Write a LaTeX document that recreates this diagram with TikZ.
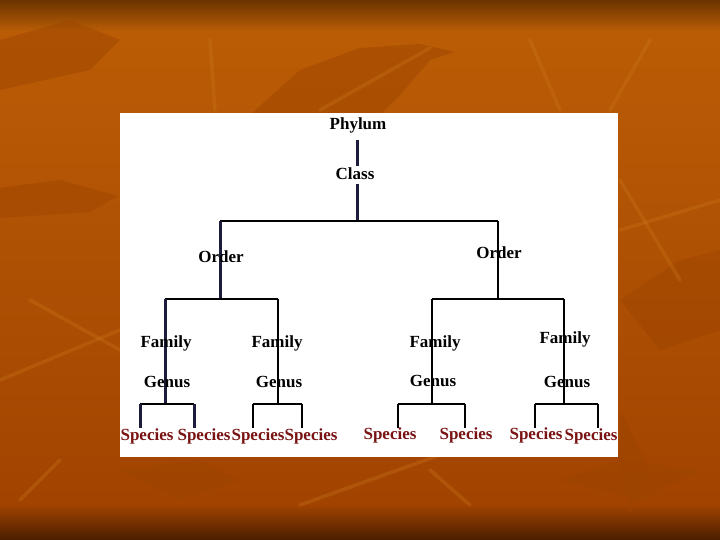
\documentclass[tikz,border=0pt]{standalone}
\usepackage{fontspec}
\setmainfont{Liberation Serif}
\definecolor{bgtop}{HTML}{BC5E06}
\definecolor{bgbot}{HTML}{A04200}
\definecolor{bandtop}{HTML}{6A3400}
\definecolor{bandbot}{HTML}{4A1E00}
\definecolor{leafdark}{HTML}{9C4400}
\definecolor{leaflight}{HTML}{CC7A1C}
\definecolor{navy}{HTML}{1C1C3C}
\definecolor{specred}{HTML}{7A1414}
\tikzset{
  lbl/.style={font=\fontsize{17}{19}\selectfont\bfseries, inner sep=1pt},
  spec/.style={lbl, text=specred},
  thickln/.style={line width=3pt, draw=navy},
  medln/.style={line width=2.4pt, draw=black},
  thinln/.style={line width=1.2pt, draw=black},
  leaf/.style={fill=leafdark, opacity=0.45, draw=none},
  vein/.style={draw=leaflight, opacity=0.3, line width=3.5pt, line cap=round}
}
\begin{document}
\begin{tikzpicture}[x=1pt,y=-1pt]
\useasboundingbox (0,0) rectangle (720,540);
% background
\shade[top color=bgtop, bottom color=bgbot] (0,0) rectangle (720,540);
\shade[top color=bandtop, bottom color=bgtop] (0,0) rectangle (720,32);
\shade[top color=bgbot, bottom color=bandbot] (0,505) rectangle (720,540);
% leaves (decorative)
\fill[leaf] (250,115) -- (300,70) -- (360,48) -- (420,44) -- (455,52) -- (430,60) -- (400,95) -- (380,115) -- cycle;
\fill[leaf] (0,188) -- (60,180) -- (118,196) -- (90,212) -- (0,218) -- cycle;
\fill[leaf] (0,40) -- (70,20) -- (120,40) -- (90,70) -- (0,90) -- cycle;
\fill[leaf] (620,300) -- (680,260) -- (720,250) -- (720,330) -- (660,350) -- cycle;
\fill[leaf] (560,480) -- (620,460) -- (700,470) -- (640,500) -- cycle;
\fill[leaf] (120,470) -- (180,500) -- (240,480) -- (200,460) -- cycle;
\fill[leaf] (620,410) -- (650,470) -- (630,515) -- (620,470) -- cycle;
\draw[vein] (320,110) -- (430,48);
\draw[vein] (210,40) -- (215,110);
\draw[vein] (30,300) -- (120,350);
\draw[vein] (0,380) -- (120,330);
\draw[vein] (620,180) -- (680,280);
\draw[vein] (620,230) -- (720,200);
\draw[vein] (300,505) -- (440,455);
\draw[vein] (430,470) -- (470,505);
\draw[vein] (530,40) -- (560,110);
\draw[vein] (650,40) -- (610,110);
\draw[vein] (20,500) -- (60,460);
% white panel
\fill[white] (120,113) rectangle (618,457);
% nodes
\node[lbl] (phylum) at (358,125) {Phylum};
\node[lbl] (class) at (355,174) {Class};
\coordinate (j0) at (357,221);
\coordinate (jL) at (220,221);
\coordinate (jR) at (498,221);
\coordinate (oL) at (220,299);
\coordinate (oR) at (498,299);
\coordinate (fLLc) at (165,299);
\coordinate (fLRc) at (278,299);
\coordinate (fRLc) at (432,299);
\coordinate (fRRc) at (564,299);
\coordinate (g1) at (165,404);
\coordinate (g2) at (278,404);
\coordinate (g3) at (432,404);
\coordinate (g4) at (564,404);
\foreach \n/\x in {a/140,b/194,c/253,d/302,e/398,f/465,g/535,h/598}{
  \coordinate (s\n t) at (\x,404);
  \coordinate (s\n b) at (\x,428);
}
% connectors
\draw[thickln] (phylum.south) ++(-1,6) -- (357,166);
\draw[thickln] (class.south) ++(2,3) -- (j0);
\draw[medln] (jL) -- (jR);
\draw[thickln] (jL) -- (oL);
\draw[thinln] (jR) -- (oR);
\draw[medln] (fLLc) -- (fLRc);
\draw[medln] (fRLc) -- (fRRc);
\draw[thickln] (fLLc) -- (g1);
\draw[line width=2pt] (fLRc) -- (g2);
\draw[line width=1.8pt] (fRLc) -- (g3);
\draw[thinln] (fRRc) -- (g4);
\draw[medln] (sat) -- (sbt);
\draw[thickln] (sat) -- (sab); \draw[thickln] (sbt) -- (sbb);
\draw[medln] (sct) -- (sdt);
\draw[line width=2pt] (sct) -- (scb); \draw[line width=2pt] (sdt) -- (sdb);
\draw[medln] (set) -- (sft);
\draw[line width=1.5pt] (set) -- (seb); \draw[line width=1.5pt] (sft) -- (sfb);
\draw[medln] (sgt) -- (sht);
\draw[line width=1.5pt] (sgt) -- (sgb); \draw[line width=1.5pt] (sht) -- (shb);
% labels over lines
\node[lbl] (orderL) at (221,257) {Order};
\node[lbl] (orderR) at (499,253) {Order};
\node[lbl] (famLL) at (166,343) {Family};
\node[lbl] (famLR) at (277,343) {Family};
\node[lbl] (famRL) at (435,343) {Family};
\node[lbl] (famRR) at (565,339) {Family};
\node[lbl] (genLL) at (167,382) {Genus};
\node[lbl] (genLR) at (279,382) {Genus};
\node[lbl] (genRL) at (433,381) {Genus};
\node[lbl] (genRR) at (567,382) {Genus};
\node[spec] (sp1) at (147,436) {Species};
\node[spec] (sp2) at (204,436) {Species};
\node[spec] (sp3) at (258,436) {Species};
\node[spec] (sp4) at (311,436) {Species};
\node[spec] (sp5) at (390,435) {Species};
\node[spec] (sp6) at (466,435) {Species};
\node[spec] (sp7) at (536,435) {Species};
\node[spec] (sp8) at (591,436) {Species};
\end{tikzpicture}
\end{document}
